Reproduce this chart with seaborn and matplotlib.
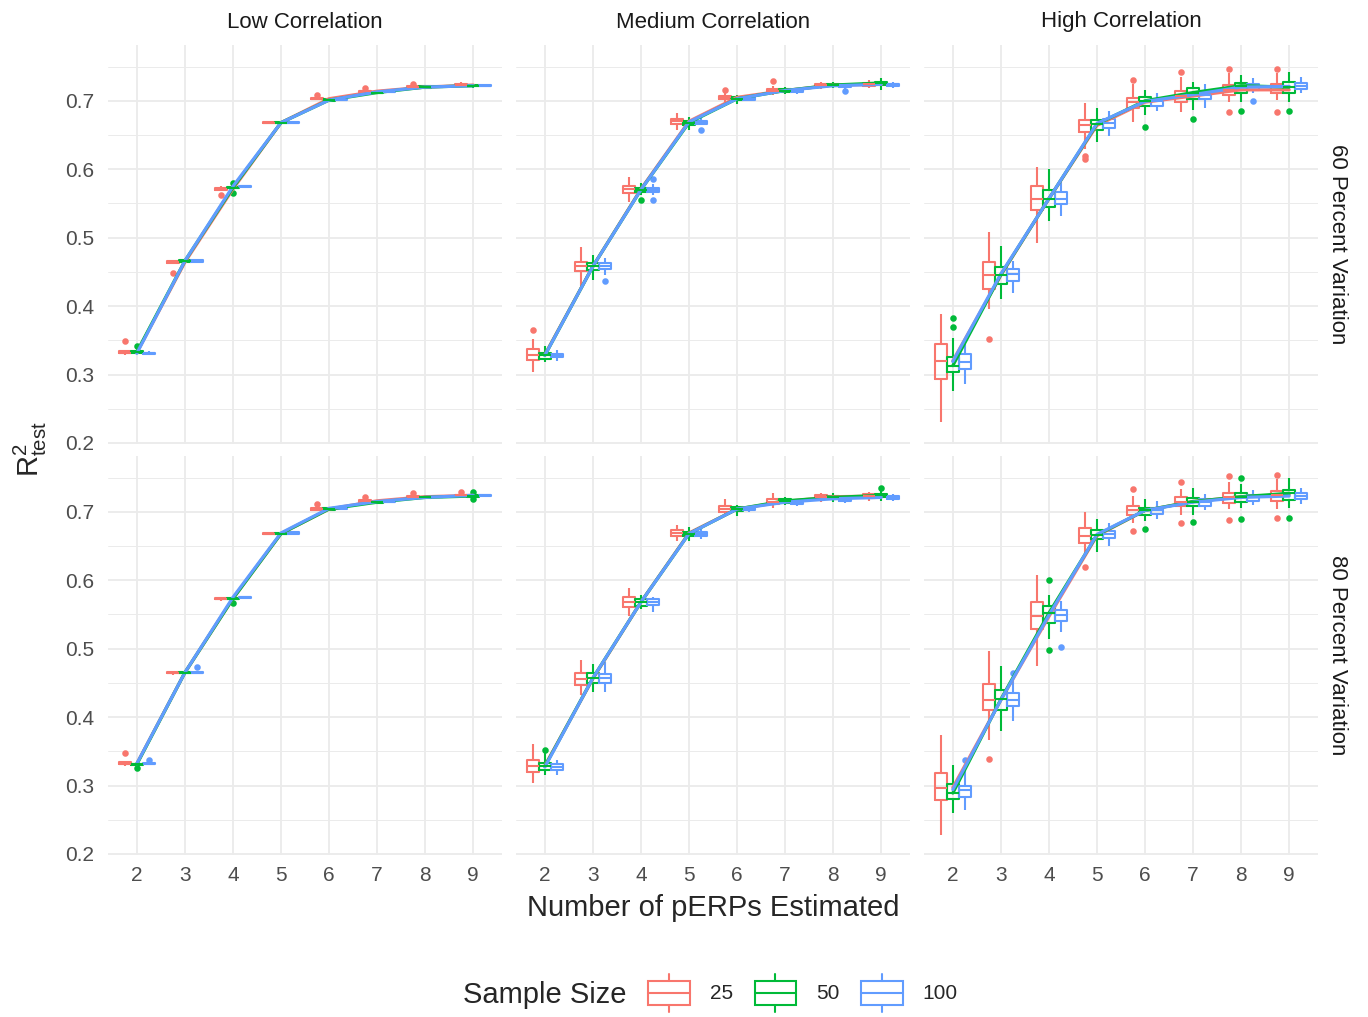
import numpy as np
import pandas as pd
import matplotlib
matplotlib.use("Agg")
import matplotlib.pyplot as plt
from matplotlib.legend_handler import HandlerBase
from matplotlib.lines import Line2D
from matplotlib.patches import Rectangle
import seaborn as sns

# ---------------- data ----------------
X_VALUES = [2, 3, 4, 5, 6, 7, 8, 9]
SIZES = ["25", "50", "100"]
CORRELATIONS = ["Low Correlation", "Medium Correlation", "High Correlation"]
VARIATIONS = ["60 Percent Variation", "80 Percent Variation"]
PALETTE = {"25": "#F8766D", "50": "#00BA38", "100": "#619CFF"}

# each box: (lower whisker, Q1, median, Q3, upper whisker), one per x = 2..9
LOW_60 = {
    "25": [(0.329, 0.331, 0.332, 0.334, 0.336), (0.461, 0.463, 0.464, 0.466, 0.468),
           (0.568, 0.570, 0.571, 0.573, 0.575), (0.666, 0.667, 0.668, 0.669, 0.670),
           (0.701, 0.702, 0.703, 0.704, 0.705), (0.712, 0.713, 0.714, 0.715, 0.716),
           (0.718, 0.719, 0.720, 0.721, 0.722), (0.721, 0.722, 0.723, 0.724, 0.725)],
    "50": [(0.330, 0.332, 0.333, 0.334, 0.336), (0.463, 0.465, 0.466, 0.467, 0.469),
           (0.570, 0.572, 0.573, 0.574, 0.576), (0.667, 0.668, 0.668, 0.669, 0.670),
           (0.699, 0.700, 0.701, 0.702, 0.703), (0.710, 0.711, 0.712, 0.713, 0.714),
           (0.718, 0.719, 0.720, 0.721, 0.722), (0.720, 0.721, 0.722, 0.723, 0.724)],
    "100": [(0.329, 0.330, 0.331, 0.332, 0.334), (0.464, 0.465, 0.466, 0.467, 0.468),
            (0.572, 0.574, 0.575, 0.576, 0.577), (0.667, 0.668, 0.668, 0.669, 0.670),
            (0.700, 0.701, 0.701, 0.702, 0.703), (0.712, 0.713, 0.713, 0.714, 0.715),
            (0.719, 0.720, 0.720, 0.721, 0.722), (0.721, 0.722, 0.722, 0.723, 0.724)],
}
LOW_80 = {
    "25": [(0.329, 0.331, 0.332, 0.334, 0.336), (0.462, 0.464, 0.465, 0.466, 0.468),
           (0.570, 0.572, 0.573, 0.574, 0.576), (0.666, 0.667, 0.668, 0.669, 0.670),
           (0.702, 0.703, 0.704, 0.706, 0.707), (0.714, 0.715, 0.716, 0.717, 0.718),
           (0.720, 0.721, 0.722, 0.723, 0.724), (0.722, 0.723, 0.724, 0.725, 0.727)],
    "50": [(0.328, 0.330, 0.331, 0.332, 0.334), (0.463, 0.464, 0.465, 0.466, 0.468),
           (0.570, 0.572, 0.573, 0.574, 0.575), (0.666, 0.667, 0.668, 0.669, 0.670),
           (0.702, 0.703, 0.704, 0.705, 0.706), (0.712, 0.713, 0.714, 0.715, 0.716),
           (0.719, 0.720, 0.721, 0.722, 0.723), (0.721, 0.722, 0.723, 0.724, 0.726)],
    "100": [(0.330, 0.331, 0.332, 0.333, 0.334), (0.463, 0.464, 0.465, 0.466, 0.467),
            (0.573, 0.574, 0.575, 0.576, 0.577), (0.667, 0.668, 0.669, 0.670, 0.671),
            (0.703, 0.704, 0.705, 0.706, 0.707), (0.714, 0.715, 0.715, 0.716, 0.717),
            (0.720, 0.721, 0.721, 0.722, 0.723), (0.722, 0.723, 0.724, 0.725, 0.726)],
}
MED_60 = {
    "25": [(0.303, 0.321, 0.329, 0.337, 0.352), (0.423, 0.451, 0.458, 0.465, 0.486),
           (0.552, 0.565, 0.571, 0.576, 0.588), (0.657, 0.666, 0.670, 0.674, 0.682),
           (0.698, 0.702, 0.705, 0.707, 0.712), (0.709, 0.713, 0.715, 0.717, 0.721),
           (0.717, 0.721, 0.723, 0.725, 0.728), (0.718, 0.722, 0.724, 0.726, 0.730)],
    "50": [(0.318, 0.323, 0.328, 0.332, 0.341), (0.438, 0.453, 0.458, 0.463, 0.475),
           (0.562, 0.567, 0.570, 0.573, 0.580), (0.660, 0.665, 0.668, 0.671, 0.676),
           (0.698, 0.701, 0.703, 0.705, 0.709), (0.710, 0.713, 0.715, 0.717, 0.720),
           (0.718, 0.721, 0.723, 0.725, 0.728), (0.719, 0.723, 0.726, 0.728, 0.734)],
    "100": [(0.320, 0.325, 0.328, 0.330, 0.336), (0.445, 0.454, 0.458, 0.463, 0.470),
            (0.563, 0.567, 0.570, 0.573, 0.578), (0.664, 0.666, 0.669, 0.671, 0.675),
            (0.699, 0.701, 0.703, 0.705, 0.707), (0.710, 0.713, 0.715, 0.716, 0.719),
            (0.717, 0.720, 0.722, 0.723, 0.725), (0.720, 0.722, 0.724, 0.725, 0.727)],
}
MED_80 = {
    "25": [(0.303, 0.320, 0.329, 0.338, 0.360), (0.433, 0.447, 0.456, 0.464, 0.484),
           (0.547, 0.561, 0.568, 0.576, 0.589), (0.657, 0.665, 0.669, 0.674, 0.680),
           (0.697, 0.700, 0.704, 0.708, 0.712), (0.706, 0.711, 0.715, 0.718, 0.722),
           (0.714, 0.719, 0.722, 0.724, 0.728), (0.716, 0.720, 0.723, 0.726, 0.729)],
    "50": [(0.316, 0.323, 0.328, 0.333, 0.347), (0.436, 0.450, 0.457, 0.464, 0.478),
           (0.558, 0.563, 0.568, 0.572, 0.579), (0.661, 0.665, 0.668, 0.671, 0.678),
           (0.698, 0.701, 0.704, 0.707, 0.710), (0.710, 0.713, 0.716, 0.718, 0.722),
           (0.715, 0.719, 0.721, 0.723, 0.727), (0.716, 0.721, 0.724, 0.726, 0.731)],
    "100": [(0.315, 0.322, 0.327, 0.332, 0.337), (0.436, 0.450, 0.457, 0.463, 0.475),
            (0.559, 0.564, 0.568, 0.572, 0.576), (0.660, 0.665, 0.668, 0.670, 0.675),
            (0.700, 0.702, 0.704, 0.706, 0.708), (0.708, 0.711, 0.714, 0.716, 0.719),
            (0.713, 0.716, 0.719, 0.721, 0.724), (0.716, 0.719, 0.721, 0.723, 0.726)],
}
HIGH_60 = {
    "25": [(0.230, 0.293, 0.320, 0.345, 0.388), (0.396, 0.425, 0.445, 0.464, 0.508),
           (0.506, 0.541, 0.557, 0.575, 0.603), (0.630, 0.655, 0.664, 0.672, 0.697),
           (0.669, 0.690, 0.698, 0.704, 0.724), (0.684, 0.698, 0.707, 0.715, 0.735),
           (0.698, 0.708, 0.716, 0.723, 0.740), (0.701, 0.711, 0.716, 0.725, 0.740)],
    "50": [(0.276, 0.303, 0.313, 0.325, 0.354), (0.410, 0.432, 0.446, 0.457, 0.488),
           (0.525, 0.545, 0.557, 0.569, 0.601), (0.640, 0.658, 0.666, 0.672, 0.690),
           (0.679, 0.693, 0.700, 0.706, 0.716), (0.687, 0.702, 0.712, 0.719, 0.728),
           (0.698, 0.711, 0.722, 0.726, 0.737), (0.698, 0.712, 0.720, 0.727, 0.742)],
    "100": [(0.286, 0.308, 0.319, 0.330, 0.345), (0.419, 0.437, 0.447, 0.454, 0.466),
            (0.532, 0.549, 0.557, 0.566, 0.581), (0.648, 0.660, 0.667, 0.673, 0.685),
            (0.685, 0.693, 0.699, 0.703, 0.712), (0.690, 0.703, 0.709, 0.714, 0.725),
            (0.712, 0.716, 0.720, 0.724, 0.733), (0.712, 0.717, 0.721, 0.726, 0.735)],
}
HIGH_80 = {
    "25": [(0.228, 0.279, 0.297, 0.318, 0.374), (0.367, 0.410, 0.425, 0.449, 0.496),
           (0.474, 0.529, 0.547, 0.568, 0.608), (0.635, 0.655, 0.665, 0.677, 0.699),
           (0.684, 0.696, 0.702, 0.708, 0.723), (0.696, 0.708, 0.715, 0.721, 0.733),
           (0.704, 0.713, 0.722, 0.728, 0.743), (0.704, 0.716, 0.725, 0.730, 0.748)],
    "50": [(0.260, 0.281, 0.289, 0.302, 0.330), (0.380, 0.411, 0.426, 0.440, 0.475),
           (0.514, 0.538, 0.552, 0.562, 0.579), (0.640, 0.660, 0.666, 0.673, 0.690),
           (0.686, 0.696, 0.702, 0.706, 0.718), (0.696, 0.708, 0.715, 0.720, 0.735),
           (0.706, 0.715, 0.722, 0.727, 0.740), (0.706, 0.717, 0.727, 0.732, 0.750)],
    "100": [(0.264, 0.283, 0.294, 0.300, 0.325), (0.394, 0.416, 0.425, 0.435, 0.455),
            (0.525, 0.540, 0.549, 0.557, 0.569), (0.650, 0.661, 0.667, 0.672, 0.683),
            (0.689, 0.697, 0.702, 0.706, 0.716), (0.703, 0.709, 0.714, 0.718, 0.726),
            (0.710, 0.716, 0.721, 0.725, 0.732), (0.712, 0.718, 0.723, 0.727, 0.735)],
}

# outlying points: {size: {x: [values]}}
OUT_LOW_60 = {"25": {2: [0.349], 3: [0.449], 4: [0.563], 6: [0.709], 7: [0.719], 8: [0.725], 9: [0.727]},
              "50": {2: [0.341], 4: [0.580, 0.565], 9: [0.718]},
              "100": {}}
OUT_LOW_80 = {"25": {2: [0.347], 6: [0.711], 7: [0.721], 8: [0.727], 9: [0.729]},
              "50": {2: [0.325], 4: [0.566], 9: [0.729, 0.718]},
              "100": {2: [0.338], 3: [0.473]}}
OUT_MED_60 = {"25": {2: [0.365], 6: [0.716], 7: [0.729]},
              "50": {4: [0.555], 5: [0.657], 6: [0.695], 9: [0.716]},
              "100": {3: [0.437], 4: [0.585, 0.555], 5: [0.658], 8: [0.714], 9: [0.718]}}
OUT_MED_80 = {"25": {6: [0.718], 7: [0.728]},
              "50": {2: [0.352], 5: [0.657], 6: [0.694], 9: [0.735]},
              "100": {3: [0.481], 4: [0.553]}}
OUT_HIGH_60 = {"25": {3: [0.352], 4: [0.492], 5: [0.620, 0.615], 6: [0.731], 7: [0.742],
                      8: [0.747, 0.684], 9: [0.747, 0.684]},
               "50": {2: [0.369, 0.383], 6: [0.661], 7: [0.674], 8: [0.685], 9: [0.685]},
               "100": {8: [0.699]}}
OUT_HIGH_80 = {"25": {3: [0.339], 5: [0.620], 6: [0.733, 0.672], 7: [0.744, 0.684],
                      8: [0.752, 0.688], 9: [0.754, 0.691]},
               "50": {4: [0.600, 0.498], 6: [0.675], 7: [0.685], 8: [0.749, 0.690], 9: [0.691]},
               "100": {2: [0.338], 3: [0.465], 4: [0.503]}}

PANELS = {
    ("Low Correlation", "60 Percent Variation"): (LOW_60, OUT_LOW_60),
    ("Medium Correlation", "60 Percent Variation"): (MED_60, OUT_MED_60),
    ("High Correlation", "60 Percent Variation"): (HIGH_60, OUT_HIGH_60),
    ("Low Correlation", "80 Percent Variation"): (LOW_80, OUT_LOW_80),
    ("Medium Correlation", "80 Percent Variation"): (MED_80, OUT_MED_80),
    ("High Correlation", "80 Percent Variation"): (HIGH_80, OUT_HIGH_80),
}


def box_values(stats, extra):
    """Expand a read 5-number summary into values whose box statistics reproduce it."""
    lo, q1, med, q3, hi = stats
    iqr = q3 - q1
    lo = max(lo, q1 - 1.5 * iqr)
    hi = min(hi, q3 + 1.5 * iqr)
    return [lo] + [q1] * 10 + [med] * 5 + [q3] * 10 + [hi] + list(extra)


rows = []
for (corr, var), (boxes, outs) in PANELS.items():
    for size in SIZES:
        for i, xv in enumerate(X_VALUES):
            for v in box_values(boxes[size][i], outs[size].get(xv, [])):
                rows.append((corr, var, size, xv, v))
df = pd.DataFrame(rows, columns=["corr", "var", "size", "x", "value"])

# ---------------- styling ----------------
sns.set_style("white")
plt.rcParams["font.family"] = ["Liberation Sans", "DejaVu Sans"]
plt.rcParams["mathtext.default"] = "regular"

W, H = 1368, 1017
fig = plt.figure(figsize=(W / 100, H / 100), dpi=100)

col_left = [108, 516, 924]
col_w = 394
row_top = [45, 456]
row_h = 399
GRID = "#EBEBEB"
TXT = "#4D4D4D"

for r, var in enumerate(VARIATIONS):
    for c, corr in enumerate(CORRELATIONS):
        ax = fig.add_axes([col_left[c] / W, 1 - (row_top[r] + row_h) / H, col_w / W, row_h / H])
        sub = df[(df["corr"] == corr) & (df["var"] == var)]
        sns.boxplot(data=sub, x="x", y="value", hue="size", hue_order=SIZES, palette=PALETTE,
                    native_scale=True, dodge=True, width=0.75, gap=0.0, fill=False,
                    showcaps=False, whis=1.5, linewidth=1.5,
                    flierprops=dict(marker="o", markersize=2.8, markeredgewidth=1.9),
                    legend=False, ax=ax)
        for ln in ax.lines:
            if ln.get_marker() == "o":
                ln.set_markerfacecolor(ln.get_markeredgecolor())
        sns.lineplot(data=sub, x="x", y="value", hue="size", hue_order=SIZES, palette=PALETTE,
                     estimator="median", errorbar=None, linewidth=2.3, legend=False, ax=ax)
        ax.set_xlim(1.4, 9.6)
        ax.set_ylim(0.1985, 0.7815)
        ax.set_xticks(X_VALUES)
        ax.set_yticks([0.2, 0.3, 0.4, 0.5, 0.6, 0.7])
        ax.set_yticks([0.25, 0.35, 0.45, 0.55, 0.65, 0.75], minor=True)
        ax.set_axisbelow(True)
        ax.grid(which="major", color=GRID, linewidth=1.3)
        ax.grid(which="minor", axis="y", color=GRID, linewidth=0.7)
        for s in ax.spines.values():
            s.set_visible(False)
        ax.tick_params(which="both", length=0, labelsize=15, labelcolor=TXT)
        ax.tick_params(axis="y", pad=10)
        ax.tick_params(axis="x", pad=8)
        ax.set_xlabel("")
        ax.set_ylabel("")
        if c > 0:
            ax.tick_params(axis="y", labelleft=False)
        else:
            ax.set_yticklabels(["0.2", "0.3", "0.4", "0.5", "0.6", "0.7"])
        if r == 0:
            ax.tick_params(axis="x", labelbottom=False)
            ax.text(0.5, 1 + 23 / row_h, corr, transform=ax.transAxes, ha="center", va="center",
                    fontsize=16, color="#1A1A1A")
        if c == 2:
            ax.text(1 + 20 / col_w, 0.5, var, transform=ax.transAxes, ha="center", va="center",
                    rotation=-90, fontsize=16, color="#1A1A1A")

fig.text(30 / W, 1 - 449 / H, "$R^2_{test}$", rotation=90, ha="center", va="center", fontsize=21)
fig.text(713 / W, 1 - 908 / H, "Number of pERPs Estimated", ha="center", va="center", fontsize=21)


class BoxKey(HandlerBase):
    def create_artists(self, legend, orig_handle, xdescent, ydescent, width, height, fontsize, trans):
        col = orig_handle.get_color()
        x0, y0 = -xdescent, -ydescent
        rect = Rectangle((x0, y0 + 0.2 * height), width, 0.6 * height, fill=False,
                         edgecolor=col, linewidth=1.5, transform=trans)
        med = Line2D([x0, x0 + width], [y0 + 0.5 * height] * 2, color=col, linewidth=1.5, transform=trans)
        w1 = Line2D([x0 + width / 2] * 2, [y0 + 0.8 * height, y0 + height], color=col, linewidth=1.5, transform=trans)
        w2 = Line2D([x0 + width / 2] * 2, [y0, y0 + 0.2 * height], color=col, linewidth=1.5, transform=trans)
        return [rect, med, w1, w2]


handles = [Line2D([], [], color=PALETTE[s]) for s in SIZES]
fig.text(463 / W, 1 - 995 / H, "Sample Size", ha="left", va="center", fontsize=21)
fig.legend(handles, SIZES, handler_map={Line2D: BoxKey()}, loc="center",
           bbox_to_anchor=(803 / W, 1 - 993 / H), ncol=3, frameon=False, fontsize=15,
           handlelength=2.0, handleheight=2.5, handletextpad=0.95, columnspacing=1.05)

fig.savefig("out.png", dpi=100)
